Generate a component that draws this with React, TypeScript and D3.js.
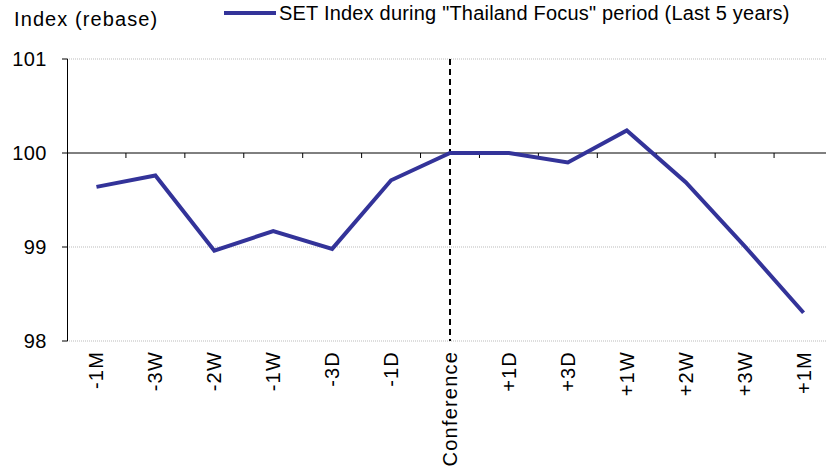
import React from "react";
import * as d3 from "d3";

const categories = ["-1M", "-3W", "-2W", "-1W", "-3D", "-1D", "Conference", "+1D", "+3D", "+1W", "+2W", "+3W", "+1M"];
const setIndex = [99.64, 99.76, 98.96, 99.17, 98.98, 99.71, 100, 100, 99.9, 100.24, 99.69, 99.01, 98.3];
const yTicks = [98, 99, 100, 101];
const seriesName = 'SET Index during "Thailand Focus" period (Last 5 years)';
const markerCategory = "Conference";

const W = 826;
const H = 470;
const font = "'Liberation Sans', Arial, sans-serif";
const lineColor = "#333399";

export default function App() {
  const x = d3.scaleBand<string>().domain(categories).range([67, 833]);
  const y = d3.scaleLinear().domain([98, 101]).range([341, 59]);
  const bw = x.bandwidth();
  const cx = (c: string) => (x(c) as number) + bw / 2;

  const line = d3
    .line<number>()
    .x((_, i) => cx(categories[i]))
    .y((d) => y(d));

  const y100 = y(100);

  return (
    <div style={{ position: "absolute", left: 0, top: 0 }}>
      <svg width={W} height={H} style={{ display: "block" }} fontFamily={font}>
        {/* gridlines */}
        {yTicks
          .filter((t) => t !== 100)
          .map((t) => (
            <line key={t} x1={67} x2={W} y1={y(t)} y2={y(t)} stroke="#bbb" strokeWidth={1} strokeDasharray="1,1" />
          ))}
        {/* y axis */}
        <line x1={67.5} x2={67.5} y1={y(101)} y2={y(98)} stroke="#000" strokeWidth={1} />
        {yTicks.map((t) => (
          <g key={t}>
            <line x1={62} x2={67.5} y1={y(t)} y2={y(t)} stroke="#000" />
            <text x={47} y={y(t)} dy="0.35em" textAnchor="end" fontSize={20} letterSpacing={0.5} fill="#000">
              {t}
            </text>
          </g>
        ))}
        {/* x axis crossing at 100 */}
        <line x1={67} x2={W} y1={y100} y2={y100} stroke="#000" strokeWidth={1} />
        {categories.slice(1).map((c) => (
          <line key={c} x1={x(c)} x2={x(c)} y1={y100} y2={y100 + 5} stroke="#000" />
        ))}
        {/* conference marker */}
        <line
          x1={cx(markerCategory)}
          x2={cx(markerCategory)}
          y1={y(101)}
          y2={y(98)}
          stroke="#000"
          strokeWidth={2}
          strokeDasharray="6,4"
        />
        {/* series */}
        <path d={line(setIndex) || ""} fill="none" stroke={lineColor} strokeWidth={4} strokeLinejoin="miter" />
        {/* x labels */}
        {categories.map((c) => (
          <text
            key={c}
            transform={`translate(${cx(c)},351) rotate(-90)`}
            dy="0.35em"
            textAnchor="end"
            fontSize={20}
            letterSpacing={1.2}
            fill="#000"
          >
            {c}
          </text>
        ))}
        {/* titles and legend */}
        <text x={14} y={26} fontSize={20} letterSpacing={1.1} fill="#000">
          Index (rebase)
        </text>
        <line x1={224} x2={276} y1={13} y2={13} stroke={lineColor} strokeWidth={4} />
        <text x={279} y={20} fontSize={20} letterSpacing={0.2} fill="#000">
          {seriesName}
        </text>
      </svg>
    </div>
  );
}
